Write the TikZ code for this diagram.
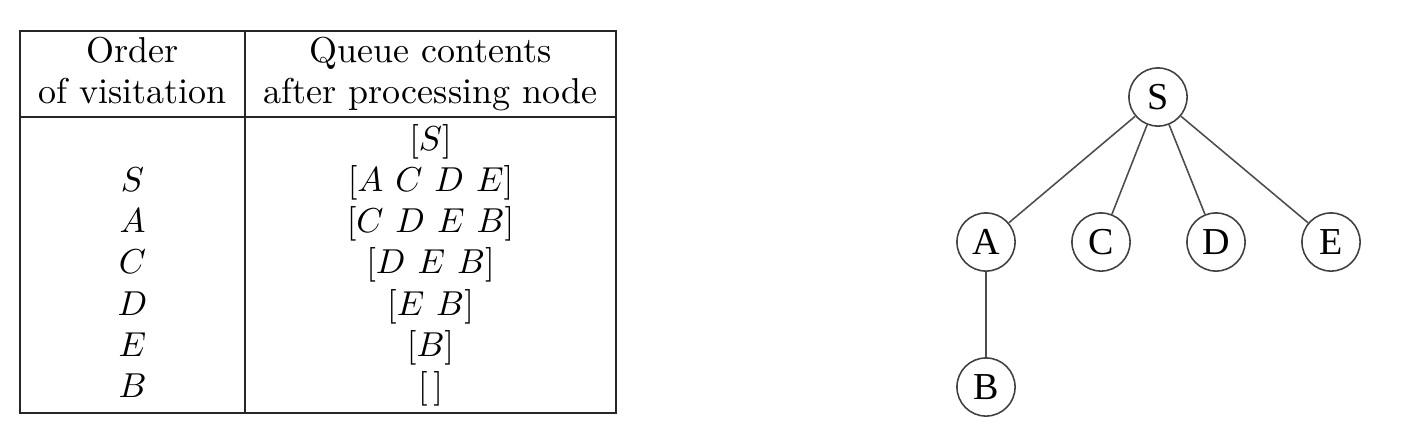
\documentclass[tikz,border=0pt]{standalone}
\usepackage{fontspec}
\newfontfamily\treefont{Liberation Serif}
\begin{document}
\begin{tikzpicture}[x=0.289pt,y=-0.289pt,
  rule/.style={draw=black!85,line width=0.55pt},
  cell/.style={anchor=base,inner sep=0pt,font=\fontsize{10.4}{12}\selectfont},
  vert/.style={circle,draw=black!75,line width=0.45pt,minimum size=16.8pt,inner sep=0pt,font=\treefont\fontsize{11}{12}\selectfont},
  edge/.style={draw=black!70,line width=0.45pt}]
\useasboundingbox (0,0) rectangle (1414,444);
% table frame
\draw[rule] (20,31) rectangle (616,413);
\draw[rule] (20,117) -- (616,117);
\draw[rule] (245,31) -- (245,413);
% header
\node[cell] (h1a) at (132.5,62) {Order};
\node[cell] (h1b) at (132.5,103) {of visitation};
\node[cell] (h2a) at (430.5,62) {Queue contents};
\node[cell] (h2b) at (430.5,103) {after processing node};
% body
\node[cell] (q0) at (430.5,150) {$[S]$};
\node[cell] (v1) at (132.5,191) {$S$};
\node[cell] (q1) at (430.5,191) {$[A\ C\ D\ E]$};
\node[cell] (v2) at (132.5,232) {$A$};
\node[cell] (q2) at (430.5,232) {$[C\ D\ E\ B]$};
\node[cell] (v3) at (132.5,273) {$C$};
\node[cell] (q3) at (430.5,273) {$[D\ E\ B]$};
\node[cell] (v4) at (132.5,315) {$D$};
\node[cell] (q4) at (430.5,315) {$[E\ B]$};
\node[cell] (v5) at (132.5,356) {$E$};
\node[cell] (q5) at (430.5,356) {$[B]$};
\node[cell] (v6) at (132.5,397) {$B$};
\node[cell] (q6) at (430.5,397) {$[\,]$};
% tree
\node[vert] (S) at (1158,97) {S};
\node[vert] (A) at (986,242) {A};
\node[vert] (C) at (1101,242) {C};
\node[vert] (D) at (1216,242) {D};
\node[vert] (E) at (1331,242) {E};
\node[vert] (B) at (986,387) {B};
\draw[edge] (S) -- (A);
\draw[edge] (S) -- (C);
\draw[edge] (S) -- (D);
\draw[edge] (S) -- (E);
\draw[edge] (A) -- (B);
\end{tikzpicture}
\end{document}
